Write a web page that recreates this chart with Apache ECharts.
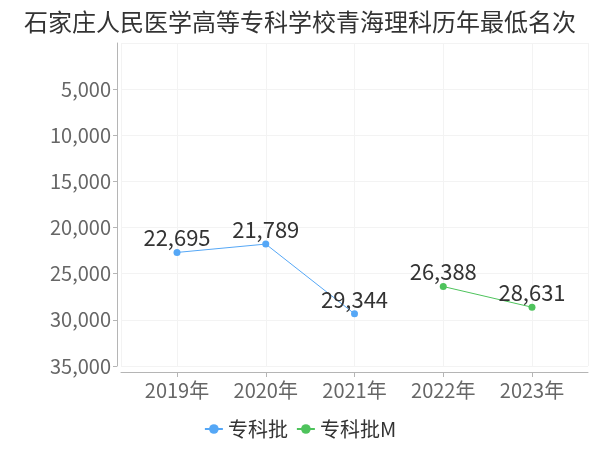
<!DOCTYPE html>
<html><head><meta charset="utf-8">
<script src="https://cdn.jsdelivr.net/npm/echarts@6/dist/echarts.min.js"></script>
<style>html,body{margin:0;padding:0;background:#fff}#c{width:600px;height:450px}</style>
</head><body><div id="c"></div>
<script>
const titleText = '石家庄人民医学高等专科学校青海理科历年最低名次';
const categories = ['2019年', '2020年', '2021年', '2022年', '2023年'];
const seriesNames = ['专科批', '专科批M'];
const seriesA = [22695, 21789, 29344, null, null];
const seriesB = [null, null, null, 26388, 28631];
const yMin = 0, yMax = 35000, yStep = 5000;
const colors = ['#55a7f6', '#4ec35c'];
const FONT = '"Noto Sans CJK SC", "Noto Sans", sans-serif';

const chart = echarts.init(document.getElementById('c'), null, {renderer: 'canvas'});
const splitColor = '#f3f3f3';
const axisColor = '#b5b5b5';
const labelFmt = p => p.value == null ? '' : p.value.toLocaleString('en-US');
const option = {
  animation: false,
  textStyle: {fontFamily: FONT},
  title: {text: titleText, left: 'center', top: 5,
    textStyle: {fontSize: 24, fontWeight: 'normal', color: '#333', fontFamily: FONT}},
  legend: {bottom: 6, left: 'center', itemGap: 8, itemWidth: 18, itemHeight: 12,
    textStyle: {fontSize: 20, color: '#333', fontFamily: FONT},
    data: seriesNames},
  grid: [
    {left: 121, right: 12, top: 43, bottom: 84, containLabel: false},
    {left: 177, right: 68, top: 43, bottom: 84, containLabel: false}
  ],
  xAxis: [
    {gridIndex: 0, type: 'value', min: 0, max: 1, interval: 1, offset: 6,
      axisLine: {show: true, onZero: false, lineStyle: {color: axisColor}},
      axisTick: {show: false}, axisLabel: {show: false},
      splitLine: {show: true, lineStyle: {color: splitColor}}},
    {gridIndex: 1, type: 'category', data: categories, boundaryGap: false, offset: 6,
      axisLine: {show: false, onZero: false},
      axisTick: {show: true, length: 5, lineStyle: {color: axisColor}},
      axisLabel: {fontSize: 20, color: '#666', margin: 8, fontFamily: FONT},
      splitLine: {show: true, lineStyle: {color: splitColor}}}
  ],
  yAxis: [
    {gridIndex: 0, type: 'value', inverse: true, min: yMin, max: yMax, interval: yStep, offset: 4,
      axisLine: {show: true, onZero: false, lineStyle: {color: axisColor}},
      axisTick: {show: true, length: 4, lineStyle: {color: axisColor}},
      axisLabel: {showMinLabel: false, fontSize: 20, color: '#666', margin: 6, fontFamily: FONT},
      splitLine: {show: true, lineStyle: {color: splitColor}}},
    {gridIndex: 1, type: 'value', inverse: true, min: yMin, max: yMax, interval: yStep, show: false,
      splitLine: {show: false}}
  ],
  series: [
    {name: seriesNames[0], type: 'line', xAxisIndex: 1, yAxisIndex: 1, data: seriesA,
      color: colors[0], symbol: 'circle', symbolSize: 7, lineStyle: {width: 1},
      label: {show: true, position: 'top', distance: 0, fontSize: 22, color: '#333', fontFamily: FONT,
        formatter: labelFmt}},
    {name: seriesNames[1], type: 'line', xAxisIndex: 1, yAxisIndex: 1, data: seriesB,
      color: colors[1], symbol: 'circle', symbolSize: 7, lineStyle: {width: 1},
      label: {show: true, position: 'top', distance: 0, fontSize: 22, color: '#333', fontFamily: FONT,
        formatter: labelFmt}}
  ]
};
chart.setOption(option);
</script></body></html>
